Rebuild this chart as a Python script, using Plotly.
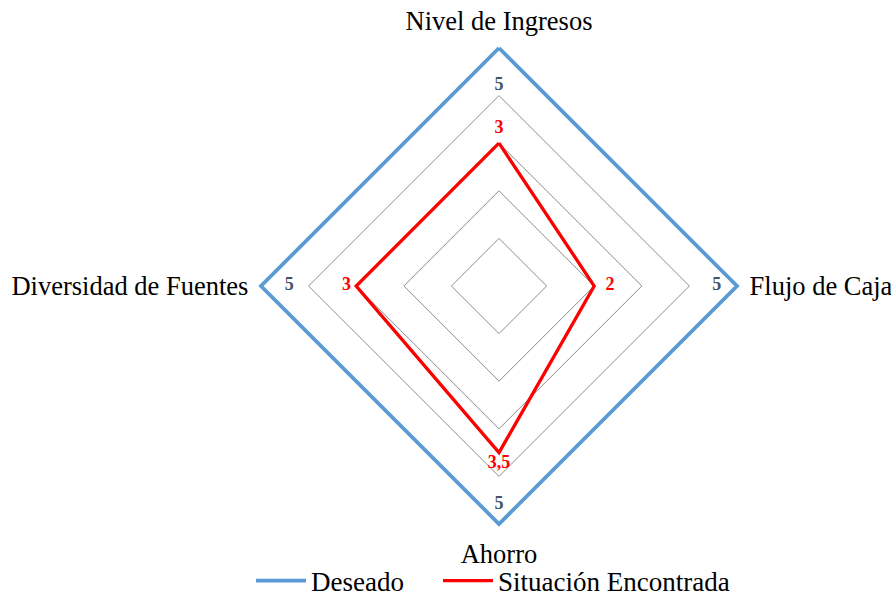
import plotly.graph_objects as go

categories = ["Nivel de Ingresos", "Flujo de Caja", "Ahorro", "Diversidad de Fuentes"]
deseado = [5, 5, 5, 5]
situacion = [3, 2, 3.5, 3]
deseado_labels = ["5", "5", "5", "5"]
situacion_labels = ["3", "2", "3,5", "3"]

# label offsets (radial units) used only for placing the data labels
deseado_label_inset = [0.6, 0.33, 0.22, 0.5]
situacion_label_outset = [0.12, 0.24, 0.05, 0.11]

W, H = 891, 596
RMAX = 5.1          # a bit of room so the outer line is not clipped
CX, CY, R5 = 499, 286, 238   # centre and pixel radius of value 5
R = R5 * RMAX / 5

def closed(v):
    return list(v) + [v[0]]

SERIF = "Liberation Serif"

fig = go.Figure()
fig.add_trace(go.Scatterpolar(
    r=closed(deseado), theta=closed(categories), mode="lines",
    name="Deseado", line=dict(color="#5B9BD5", width=3.8),
    cliponaxis=False, hoverinfo="skip", legend="legend"))
fig.add_trace(go.Scatterpolar(
    r=closed(situacion), theta=closed(categories), mode="lines",
    name="Situación Encontrada", line=dict(color="#FF0000", width=3.3),
    cliponaxis=False, hoverinfo="skip", legend="legend2"))
fig.add_trace(go.Scatterpolar(
    r=[v + o for v, o in zip(situacion, situacion_label_outset)], theta=categories,
    mode="text", text=situacion_labels, showlegend=False, cliponaxis=False,
    textposition=["top center", "middle right", "bottom center", "middle left"],
    textfont=dict(family=SERIF, size=18, color="#FF0000", weight="bold"),
    hoverinfo="skip"))
fig.add_trace(go.Scatterpolar(
    r=[v - o for v, o in zip(deseado, deseado_label_inset)], theta=categories,
    mode="text", text=deseado_labels, showlegend=False, cliponaxis=False,
    textposition=["bottom center", "middle left", "top center", "middle right"],
    textfont=dict(family=SERIF, size=18, color="#44546A", weight="bold"),
    hoverinfo="skip"))

legend_common = dict(orientation="h", xanchor="left", yanchor="middle",
                     y=1 - 581 / H, bgcolor="rgba(0,0,0,0)",
                     font=dict(family=SERIF, size=27, color="black"),
                     itemwidth=50)

fig.update_layout(
    width=W, height=H,
    margin=dict(l=0, r=0, t=0, b=0, autoexpand=False),
    paper_bgcolor="white",
    font=dict(family=SERIF, size=27, color="black"),
    polar=dict(
        domain=dict(x=[(CX - R) / W, (CX + R) / W],
                    y=[1 - (CY + R) / H, 1 - (CY - R) / H]),
        bgcolor="white",
        gridshape="linear",
        radialaxis=dict(range=[0, RMAX], tickvals=[1, 2, 3, 4, 5],
                        showticklabels=False, ticks="",
                        showline=False, gridcolor="#8C8C8C", gridwidth=1),
        angularaxis=dict(rotation=90, direction="clockwise", showgrid=False,
                         showline=False, ticks="outside", ticklen=2,
                         tickcolor="rgba(0,0,0,0)",
                         tickfont=dict(family=SERIF, size=26.5, color="black")),
    ),
    legend=dict(x=251 / W, **legend_common),
    legend2=dict(x=438 / W, **legend_common),
)

fig.write_html("out.html", config={"displayModeBar": False},
               post_script="document.body.style.margin='0px';")
